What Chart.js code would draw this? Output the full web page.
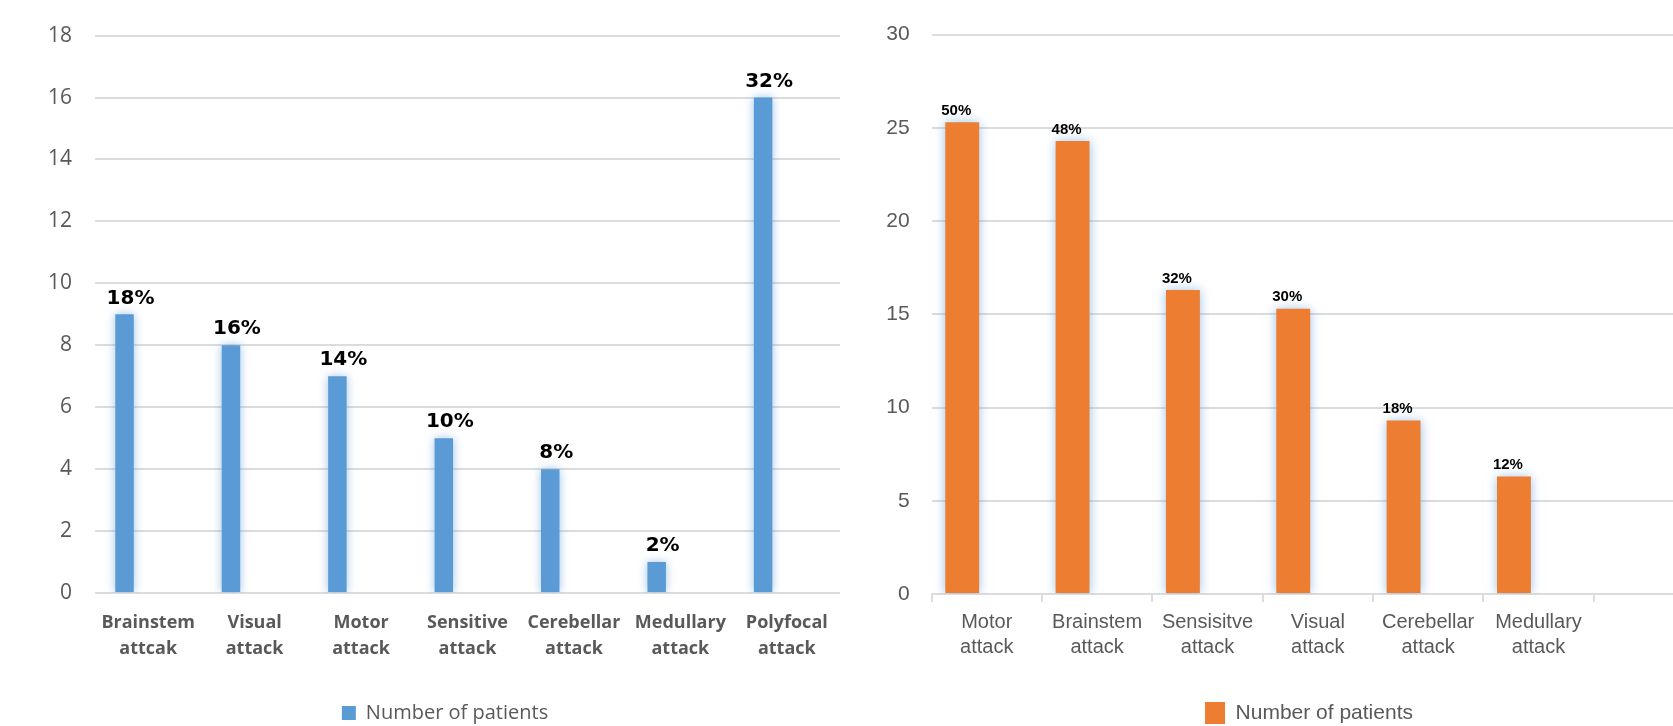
<!DOCTYPE html>
<html>
<head>
<meta charset="utf-8">
<script src="https://cdn.jsdelivr.net/npm/chart.js@4.4.1/dist/chart.umd.min.js"></script>
<style>
  html, body { margin: 0; padding: 0; background: #fff; overflow: hidden; width: 1673px; height: 726px; }
  .box { position: absolute; top: 0; }
  #leftBox { left: 0; width: 880px; height: 733px; }
  #rightBox { left: 880px; width: 862px; height: 734px; }
</style>
</head>
<body>
<div class="box" id="leftBox"><canvas id="leftChart"></canvas></div>
<div class="box" id="rightBox"><canvas id="rightChart"></canvas></div>
<script>
/* Left chart: number of patients per attack type */
const leftCategories = [["Brainstem", "attcak"], ["Visual", "attack"], ["Motor", "attack"], ["Sensitive", "attack"], ["Cerebellar", "attack"], ["Medullary", "attack"], ["Polyfocal", "attack"]];
const leftValues = [9, 8, 7, 5, 4, 1, 16];
const leftPercents = ["18%", "16%", "14%", "10%", "8%", "2%", "32%"];
const leftSpacer = [null, null, null, null, null, null, null];
const leftTicks = [0, 2, 4, 6, 8, 10, 12, 14, 16, 18];

/* Right chart: number of patients per attack type */
const rightCategories = [["Motor", "attack"], ["Brainstem", "attack"], ["Sensisitve", "attack"], ["Visual", "attack"], ["Cerebellar", "attack"], ["Medullary", "attack"], ""];
const rightValues = [25.3, 24.3, 16.3, 15.3, 9.3, 6.3, null];
const rightPercents = ["50%", "48%", "32%", "30%", "18%", "12%", ""];
const rightSpacer = [null, null, null, null, null, null, null];
const rightTicks = [0, 5, 10, 15, 20, 25, 30];

const seriesName = "Number of patients";
const axisGray = "#595959";
const gridGray = "#dcdcdc";

/* Soft blue glow around the bars (first dataset only) */
const glowPlugin = {
    id: "glow",
    beforeDatasetDraw(chart, args) {
        if (args.index !== 0) return;
        chart.ctx.save();
        chart.ctx.shadowColor = "rgba(91, 155, 213, 0.6)";
        chart.ctx.shadowBlur = 10;
    },
    afterDatasetDraw(chart, args) {
        if (args.index !== 0) return;
        chart.ctx.restore();
    },
};

/* Percent labels above each bar */
function valueLabels(texts, font, dx, gap) {
    return {
        id: "valueLabels",
        afterDatasetsDraw(chart) {
            const ctx = chart.ctx;
            const bars = chart.getDatasetMeta(0).data;
            ctx.save();
            ctx.font = font;
            ctx.fillStyle = "#000";
            ctx.textAlign = "center";
            ctx.textBaseline = "bottom";
            bars.forEach((bar, i) => {
                if (texts[i]) ctx.fillText(texts[i], bar.x + dx, bar.y - gap);
            });
            ctx.restore();
        },
    };
}

/* Moves the legend sideways so it sits where the original one is */
function legendShift(dx) {
    return {
        id: "legendShift",
        afterLayout(chart) {
            chart.legend.left += dx;
            chart.legend.right += dx;
        },
    };
}

/* Builds one of the two bar charts */
function createChart(id, cfg) {
    const ctx = document.getElementById(id).getContext("2d");
    return new Chart(ctx, {
        type: "bar",
        data: {
            labels: cfg.labels,
            datasets: [
                { label: seriesName, data: cfg.values, backgroundColor: cfg.color, categoryPercentage: 0.89, barPercentage: cfg.barPct },
                // empty second series, keeps the bars left of the category centre like the original
                { label: "", data: cfg.spacer, backgroundColor: "transparent", categoryPercentage: 0.89, barPercentage: cfg.barPct },
            ],
        },
        options: {
            responsive: true,
            maintainAspectRatio: false,
            animation: false,
            layout: { padding: { top: 33, left: cfg.padLeft, right: cfg.padRight, bottom: 0 } },
            scales: {
                x: {
                    grid: cfg.xGrid,
                    border: cfg.xBorder,
                    ticks: {
                        color: axisGray,
                        font: cfg.xFont,
                        padding: cfg.xPad,
                        maxRotation: 0,
                        autoSkip: false,
                    },
                    afterFit: (s) => { s.height = cfg.xHeight; },
                },
                y: {
                    min: 0,
                    max: cfg.ticks[cfg.ticks.length - 1],
                    afterBuildTicks: (s) => { s.ticks = cfg.ticks.map((v) => ({ value: v })); },
                    afterFit: (s) => { s.width = cfg.yWidth; },
                    grid: { color: gridGray, lineWidth: 2, drawTicks: false },
                    border: { display: false },
                    ticks: { color: axisGray, font: cfg.yFont, padding: cfg.yPad },
                },
            },
            plugins: {
                legend: {
                    position: "bottom",
                    labels: {
                        filter: (item) => item.datasetIndex === 0,
                        boxWidth: cfg.box[0],
                        boxHeight: cfg.box[1],
                        color: axisGray,
                        font: cfg.legendFont,
                        padding: 10,
                    },
                },
                tooltip: { enabled: false },
            },
        },
        plugins: [glowPlugin, valueLabels(cfg.percents, cfg.labelFont, cfg.labelDx, cfg.labelGap), legendShift(cfg.legendDx)],
    });
}

createChart("leftChart", {
    labels: leftCategories,
    values: leftValues,
    spacer: leftSpacer,
    percents: leftPercents,
    ticks: leftTicks,
    color: "#5B9BD5",
    barPct: 0.39,
    padLeft: 20,
    padRight: 40,
    yWidth: 75,
    yPad: 23,
    yFont: { family: "'Open Sans'", size: 21 },
    xGrid: { display: false },
    xBorder: { display: false },
    xFont: { family: "'Open Sans'", size: 18, weight: "bold", lineHeight: 1.444 },
    xPad: 9,
    xHeight: 100,
    box: [14, 14],
    legendFont: { family: "'Open Sans'", size: 20 },
    legendDx: 15,
    labelFont: "bold 20px 'DejaVu Sans'",
    labelDx: 6,
    labelGap: 6,
});

createChart("rightChart", {
    labels: rightCategories,
    values: rightValues,
    spacer: rightSpacer,
    percents: rightPercents,
    ticks: rightTicks,
    color: "#ED7D31",
    barPct: 0.69,
    padLeft: 0,
    padRight: 38,
    yWidth: 51.6,
    yPad: 22,
    yFont: { family: "'Liberation Sans'", size: 21 },
    xGrid: { display: true, drawOnChartArea: false, drawTicks: true, tickLength: 8, color: gridGray, lineWidth: 2, offset: true },
    xBorder: { display: true, color: gridGray, width: 2 },
    xFont: { family: "'Liberation Sans'", size: 20, lineHeight: 1.25 },
    xPad: 8,
    xHeight: 98,
    box: [20, 22],
    legendFont: { family: "'Liberation Sans'", size: 21 },
    legendDx: 17,
    labelFont: "bold 15px 'Liberation Sans'",
    labelDx: -6,
    labelGap: 4,
});
</script>
</body>
</html>
